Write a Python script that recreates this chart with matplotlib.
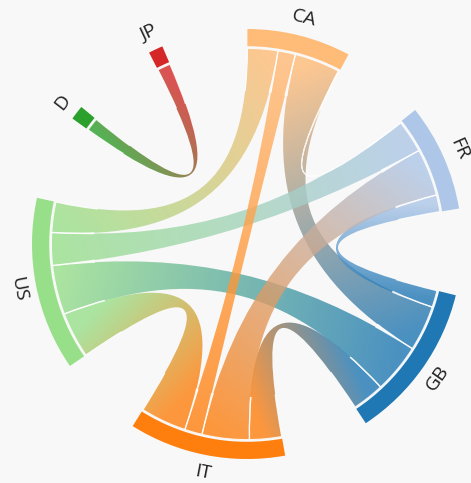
import numpy as np
import matplotlib.pyplot as plt
from matplotlib.path import Path
from matplotlib.patches import PathPatch, Wedge
from matplotlib.colors import to_rgb

# arcs, counter-clockwise starting near 0 deg
names = ['FR', 'CA', 'JP', 'D', 'US', 'IT', 'GB']
colors = ['#aec7e8', '#ffbb78', '#d62728', '#2ca02c', '#98df8a', '#ff7f0e', '#1f77b4']

# symmetric flow matrix, rows/cols in the order of names
flows = np.array([
    # FR    CA    JP   D    US    IT    GB
    [0.0,  0.3,  0.0, 0.0, 9.7,  14.0, 5.0],   # FR
    [0.3,  0.0,  0.0, 0.0, 9.0,  5.2,  13.5],  # CA
    [0.0,  0.0,  0.0, 3.9, 0.0,  0.0,  0.0],   # JP
    [0.0,  0.0,  3.9, 0.0, 0.0,  0.0,  0.0],   # D
    [9.7,  9.0,  0.0, 0.0, 0.0,  13.6, 14.6],  # US
    [14.0, 5.2,  0.0, 0.0, 13.6, 0.0,  9.5],   # IT
    [5.0,  13.5, 0.0, 0.0, 14.6, 9.5,  0.0],   # GB
])

# drawing order of the chords (later ones on top)
draw_order = [('D', 'JP'), ('CA', 'US'), ('US', 'IT'), ('GB', 'IT'),
              ('CA', 'GB'), ('FR', 'GB'), ('US', 'GB'), ('FR', 'US'),
              ('FR', 'IT'), ('CA', 'FR'), ('CA', 'IT')]

start_angle = 9.5
pad = 23.3
r_chord = 0.91
chordwidth = 0.7
alpha = 0.8

n = len(names)
sizes = flows.sum(axis=1)
scale = (360 - n * pad) / sizes.sum()

# arc extents
arcs = []
a = start_angle
for s in sizes:
    arcs.append((a, a + s * scale))
    a += s * scale + pad
centers = [(a0 + a1) / 2 for a0, a1 in arcs]

# position of each chord end inside its arc
ends = {}
for i in range(n):
    targets = [j for j in range(n) if flows[i, j] > 0]
    targets.sort(key=lambda j: -((centers[j] - centers[i]) % 360))
    a = arcs[i][0]
    for j in targets:
        w = flows[i, j] * scale
        ends[(i, j)] = (a, a + w)
        a += w


def polar(r, deg):
    t = np.deg2rad(deg)
    return (r * np.cos(t), r * np.sin(t))


def chord_path(a1, a2, b1, b2):
    rc = r_chord * (1 - chordwidth)
    verts, codes = [], []
    for k, t in enumerate(np.linspace(a1, a2, 30)):
        verts.append(polar(r_chord, t))
        codes.append(Path.MOVETO if k == 0 else Path.LINETO)
    verts += [polar(rc, a2), polar(rc, b1), polar(r_chord, b1)]
    codes += [Path.CURVE4] * 3
    for t in np.linspace(b1, b2, 30)[1:]:
        verts.append(polar(r_chord, t))
        codes.append(Path.LINETO)
    verts += [polar(rc, b2), polar(rc, a1), polar(r_chord, a1)]
    codes += [Path.CURVE4] * 3
    verts.append(polar(r_chord, a1))
    codes.append(Path.CLOSEPOLY)
    return Path(verts, codes)


R_px = 215.0
cx, cy = 247.0, 244.0
W, H = 471, 483
xlim = (-cx / R_px, (W - cx) / R_px)
ylim = (-(H - cy) / R_px, cy / R_px)

fig = plt.figure(figsize=(W / 100, H / 100), dpi=100, facecolor='#f8f8f8')
ax = fig.add_axes([0, 0, 1, 1])
ax.set_xlim(*xlim)
ax.set_ylim(*ylim)
ax.axis('off')

gx = np.linspace(xlim[0], xlim[1], 470)
gy = np.linspace(ylim[0], ylim[1], 480)
X, Y = np.meshgrid(gx, gy)

for z, (ni, nj) in enumerate(draw_order):
    i, j = names.index(ni), names.index(nj)
    a1, a2 = ends[(i, j)]
    b1, b2 = ends[(j, i)]
    path = chord_path(a1, a2, b1, b2)
    p0 = np.array(polar(r_chord, (a1 + a2) / 2))
    p1 = np.array(polar(r_chord, (b1 + b2) / 2))
    d = p1 - p0
    t = ((X - p0[0]) * d[0] + (Y - p0[1]) * d[1]) / (d @ d)
    t = np.clip(t, 0, 1)[..., None]
    c0 = np.array(to_rgb(colors[i]))
    c1 = np.array(to_rgb(colors[j]))
    img = np.concatenate([(1 - t) * c0 + t * c1,
                          np.full(t.shape, alpha)], axis=2)
    clip = PathPatch(path, facecolor='none', edgecolor='none',
                     transform=ax.transData)
    im = ax.imshow(img, origin='lower', extent=(*xlim, *ylim),
                   interpolation='bilinear', zorder=2 + 0.01 * z,
                   aspect='auto')
    im.set_clip_path(clip)
    # white seams between neighbouring chords, mostly close to the arcs
    edge = PathPatch(path, facecolor='none', edgecolor='white', lw=0.9,
                     alpha=0.85, zorder=3)
    ax.add_patch(edge)
    if flows[i, j] > 1:
        ring = Wedge((0, 0), 0.912, 0, 360, width=0.2, transform=ax.transData)
        edge.set_clip_path(ring)
    else:
        edge.set_linewidth(0.7)

for k in range(n):
    a0, a1 = arcs[k]
    ax.add_patch(Wedge((0, 0), 1.0, a0, a1, width=0.08,
                       facecolor=colors[k], edgecolor='none', zorder=4))
    ang = centers[k] % 360
    rot = ang - 90 if ang < 180 else ang + 90
    x, y = polar(1.082, ang)
    ax.text(x, y, names[k], rotation=rot, rotation_mode='anchor',
            ha='center', va='center', fontsize=14, color='#222222',
            family=['Open Sans', 'DejaVu Sans'])

ax.set_xlim(*xlim)
ax.set_ylim(*ylim)
fig.savefig('out.png', dpi=100, facecolor=fig.get_facecolor())
